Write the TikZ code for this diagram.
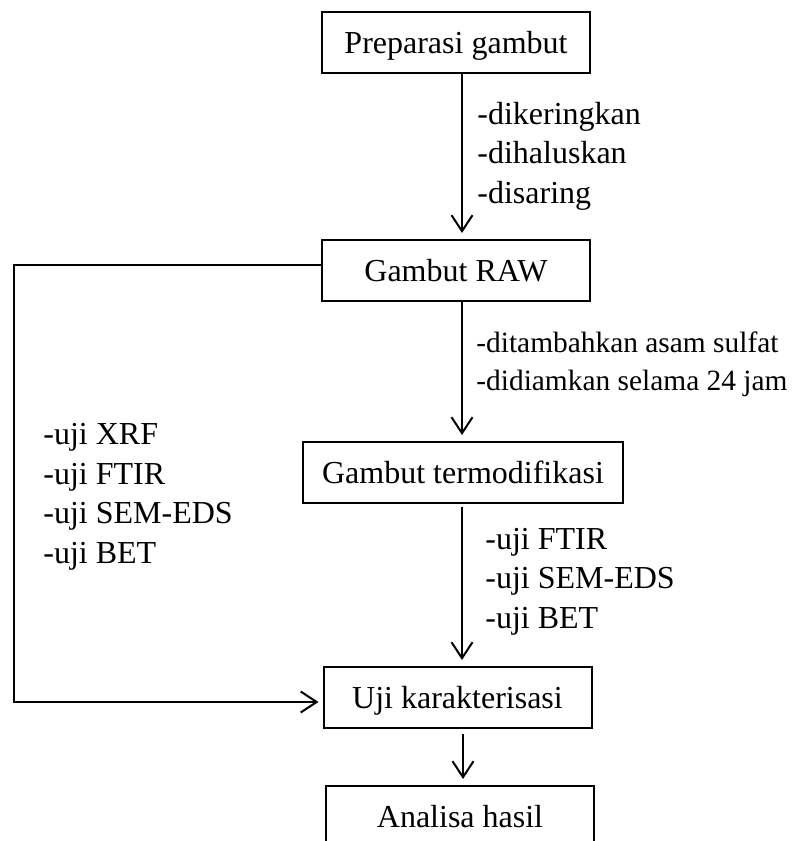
\documentclass[tikz,border=0pt]{standalone}
\usepackage{fontspec}
\setmainfont{Liberation Serif}
\usetikzlibrary{arrows.meta,calc,positioning}
\definecolor{cInk}{HTML}{000000}

\begin{document}
\begin{tikzpicture}[
  x=1pt, y=1pt,
  font=\rmfamily\fontsize{16}{19.75}\selectfont,
  line cap=butt, line join=miter,
  flow/.style={draw=cInk, line width=1pt,
    -{Straight Barb[length=8pt,width=10.5pt,line width=1pt]}, shorten >=3.5pt},
  stepbox/.style={draw=cInk, line width=1pt, minimum width=134pt,
    minimum height=30.5pt, inner sep=0pt, outer sep=0pt,
    text height=10.5pt, text depth=0pt, align=center},
  notelab/.style={anchor=base west, align=left, inner sep=0pt, text=cInk},
]

% ---- Page frame (last box runs off the bottom) ----
\useasboundingbox (0,0) rectangle (396,-420.5);

% ---- Step boxes (top -> bottom) ----
\node[stepbox] (prep) at (228,-21.25) {Preparasi gambut};
\node[stepbox, below=83.5pt of prep] (raw) {Gambut RAW};
\node[stepbox, minimum width=160pt, below=70.5pt of raw, xshift=3.5pt] (termo)
  {Gambut termodifikasi};
\node[stepbox, below=82pt of termo, xshift=-2.75pt] (uji) {Uji karakterisasi};
\node[stepbox, below=29pt of uji, xshift=1.25pt] (hasil) {Analisa hasil};

% ---- Step notes (placed at the baseline of their last line) ----
\node[notelab] (prepNote) at (238.5,-101.5) {-dikeringkan\\-dihaluskan\\-disaring};
\node[notelab, font=\rmfamily\fontsize{14.7}{19}\selectfont] (rawNote)
  at (238,-195) {-ditambahkan asam sulfat\\-didiamkan selama 24 jam};
\node[notelab] (termoNote) at (242.5,-314) {-uji FTIR\\-uji SEM-EDS\\-uji BET};
\node[notelab] (rawTest) at (21.5,-281.5)
  {-uji XRF\\-uji FTIR\\-uji SEM-EDS\\-uji BET};

% ---- Main spine arrows ----
\coordinate (spine) at (231,0);
\draw[flow] (prep.south -| spine) -- (raw.north -| spine);
\draw[flow] (raw.south -| spine) -- (termo.north -| spine);
\draw[flow, shorten <=2pt] (termo.south -| spine) -- (uji.north -| spine);
\draw[flow, shorten <=3pt] ([xshift=2.75pt]uji.south) -- ([xshift=1.5pt]hasil.north);

% ---- Side rail (raw sample straight to characterisation) ----
\coordinate (rail) at (7,0);
\coordinate (rawOut) at ([yshift=3pt]raw.west);
\coordinate (ujiIn) at ([yshift=-2.25pt]uji.west);
\draw[flow, shorten >=2.5pt] (rawOut) -| (rail |- ujiIn) -- (ujiIn);

\end{tikzpicture}
\end{document}
